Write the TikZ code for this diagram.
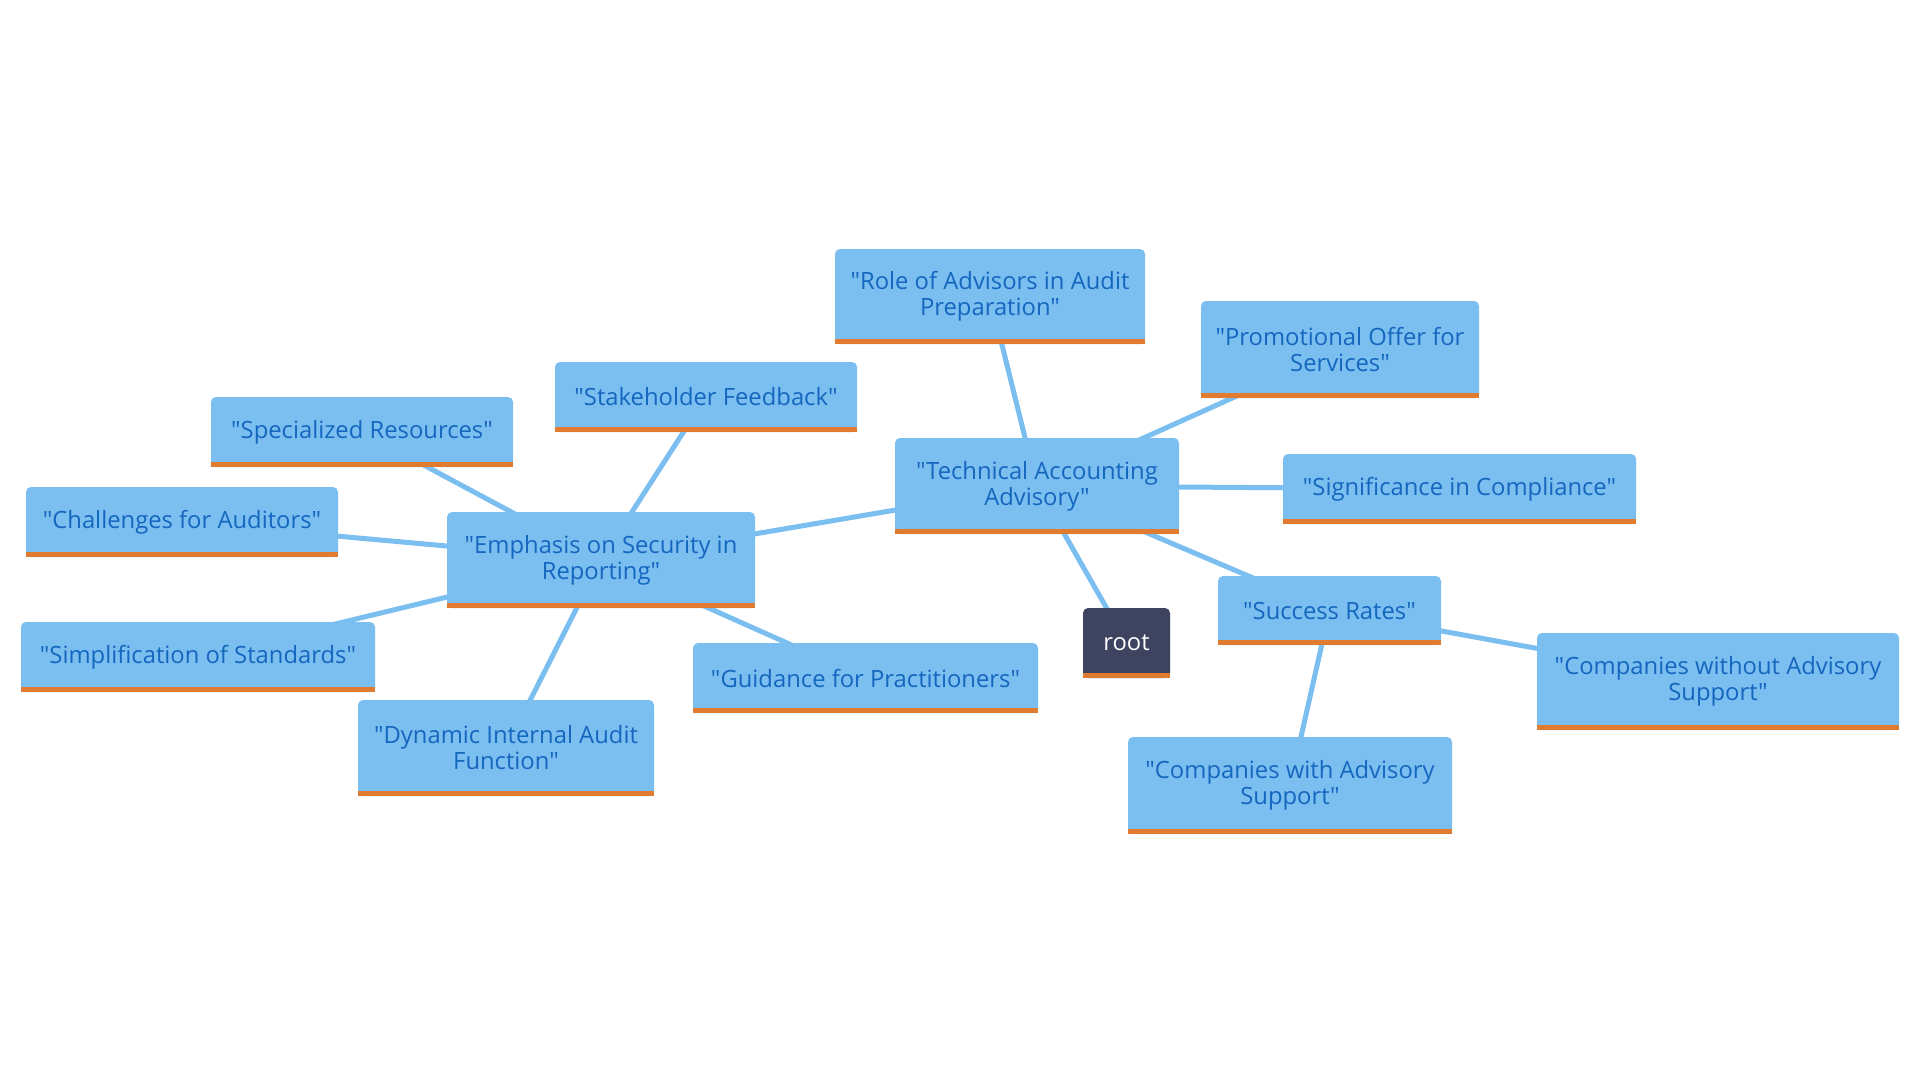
\documentclass[tikz,border=0pt]{standalone}
\usepackage{fontspec}
\newfontfamily\nodefont{Open Sans}
\usetikzlibrary{backgrounds}
\pgfdeclarelayer{edges}
\pgfsetlayers{background,edges,main}
\definecolor{nfill}{HTML}{7BBEF0}
\definecolor{ntext}{HTML}{1466BF}
\definecolor{barcol}{HTML}{E07B30}
\definecolor{rootfill}{HTML}{3E4360}
\definecolor{edgecol}{HTML}{7BBEF0}
\tikzset{
  mm/.style={fill=nfill, text=ntext, rounded corners=5pt, align=center, inner sep=0pt,
    font=\nodefont\fontsize{23.8}{26}\selectfont},
  rootnode/.style={mm, fill=rootfill, text=white},
  link/.style={draw=edgecol, line width=5pt},
}
\begin{document}
\begin{tikzpicture}[x=1pt,y=-1pt]
\begin{pgfonlayer}{background}
\fill[white] (0,0) rectangle (1920,1080);
\end{pgfonlayer}
\useasboundingbox (0,0) rectangle (1920,1080);
\node[mm, minimum width=284pt, minimum height=96pt] (taa) at (1037,486) {"Technical Accounting\\Advisory"};
\node[rootnode, minimum width=87pt, minimum height=70pt] (root) at (1126.5,643) {root};
\node[mm, minimum width=308pt, minimum height=96pt] (emp) at (601,560) {"Emphasis on Security in\\Reporting"};
\node[mm, minimum width=310pt, minimum height=95pt] (role) at (990,296.5) {"Role of Advisors in Audit\\Preparation"};
\node[mm, minimum width=278pt, minimum height=97pt] (promo) at (1340,349.5) {"Promotional Offer for\\Services"};
\node[mm, minimum width=353pt, minimum height=70pt] (sig) at (1459.5,489) {"Significance in Compliance"};
\node[mm, minimum width=223pt, minimum height=69pt] (succ) at (1329.5,610.5) {"Success Rates"};
\node[mm, minimum width=362pt, minimum height=97pt] (cwo) at (1718,681.5) {"Companies without Advisory\\Support"};
\node[mm, minimum width=324pt, minimum height=97pt] (cw) at (1290,785.5) {"Companies with Advisory\\Support"};
\node[mm, minimum width=302pt, minimum height=70pt] (stake) at (706,397) {"Stakeholder Feedback"};
\node[mm, minimum width=302pt, minimum height=70pt] (spec) at (362,432) {"Specialized Resources"};
\node[mm, minimum width=312pt, minimum height=70pt] (chal) at (182,522) {"Challenges for Auditors"};
\node[mm, minimum width=354pt, minimum height=70pt] (simp) at (198,657) {"Simplification of Standards"};
\node[mm, minimum width=296pt, minimum height=96pt] (dyn) at (506,748) {"Dynamic Internal Audit\\Function"};
\node[mm, minimum width=345pt, minimum height=70pt] (guid) at (865.5,678) {"Guidance for Practitioners"};
\foreach \n in {taa,root,emp,role,promo,sig,succ,cwo,cw,stake,spec,chal,simp,dyn,guid}
  \fill[barcol] (\n.south west) rectangle ([yshift=5pt]\n.south east);
\begin{pgfonlayer}{edges}
\draw[link] (root.center) -- (taa.center);
\draw[link] (taa.center) -- (emp.center);
\draw[link] (taa.center) -- (role.center);
\draw[link] (taa.center) -- (promo.center);
\draw[link] (taa.center) -- (sig.center);
\draw[link] (taa.center) -- (succ.center);
\draw[link] (succ.center) -- (cwo.center);
\draw[link] (succ.center) -- (cw.center);
\draw[link] (emp.center) -- (stake.center);
\draw[link] (emp.center) -- (spec.center);
\draw[link] (emp.center) -- (chal.center);
\draw[link] (emp.center) -- (simp.center);
\draw[link] (emp.center) -- (dyn.center);
\draw[link] (emp.center) -- (guid.center);
\end{pgfonlayer}
\end{tikzpicture}
\end{document}
